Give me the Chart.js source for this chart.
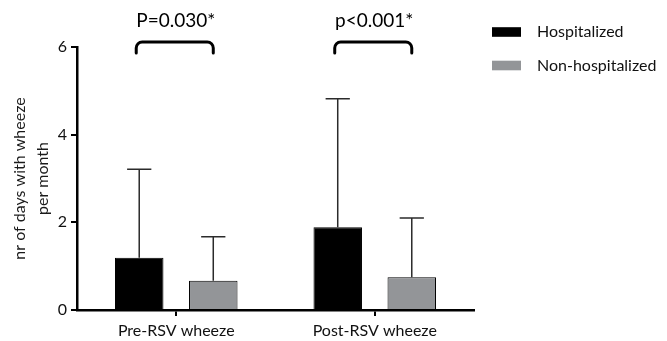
<!DOCTYPE html>
<html>
<head>
<meta charset="utf-8">
<script src="https://cdn.jsdelivr.net/npm/chart.js@4"></script>
<style>
  html, body { margin: 0; padding: 0; background: #fff; }
  #wrap { width: 667px; height: 341px; }
</style>
</head>
<body>
<div id="wrap"><canvas id="myChart" width="667" height="341"></canvas></div>
<script>
const categories = ['Pre-RSV wheeze', 'Post-RSV wheeze']
const seriesNames = ['Hospitalized', 'Non-hospitalized']
const hospitalized = [1.19, 1.89]
const nonHospitalized = [0.67, 0.75]
const sdHospitalized = [2.02, 2.93]
const sdNonHospitalized = [1.00, 1.35]
const pLabels = ['P=0.030*', 'p<0.001*']
const yTicks = [0, 2, 4, 6]

const FONT = 'Lato, "DejaVu Sans", sans-serif'
const ctx = document.getElementById('myChart')

// error bars (upper only), p-value brackets and legend
const extras = {
  id: 'extras',
  afterDatasetsDraw(chart) {
    const c = chart.ctx
    const y = chart.scales.y
    const sds = [sdHospitalized, sdNonHospitalized]

    c.save()
    c.strokeStyle = '#2b2b2b'
    c.lineWidth = 1.5
    chart.data.datasets.forEach((ds, i) => {
      chart.getDatasetMeta(i).data.forEach((bar, j) => {
        const top = y.getPixelForValue(ds.data[j] + sds[i][j])
        const half = bar.width / 4
        c.beginPath()
        c.moveTo(bar.x, bar.y)
        c.lineTo(bar.x, top)
        c.moveTo(bar.x - half, top)
        c.lineTo(bar.x + half, top)
        c.stroke()
      })
    })

    // brackets + p labels
    const m0 = chart.getDatasetMeta(0).data
    const m1 = chart.getDatasetMeta(1).data
    c.strokeStyle = '#000'
    c.lineWidth = 3
    c.lineCap = 'round'
    const yt = 42, yb = 53, r = 6
    m0.forEach((bar, j) => {
      const x1 = bar.x - 3
      const x2 = m1[j].x
      c.beginPath()
      c.moveTo(x1, yb)
      c.arcTo(x1, yt, x1 + r, yt, r)
      c.lineTo(x2 - r, yt)
      c.arcTo(x2, yt, x2, yb, r)
      c.lineTo(x2, yb)
      c.stroke()

      c.fillStyle = '#000'
      c.font = '19px ' + FONT
      c.textAlign = 'center'
      c.textBaseline = 'middle'
      c.fillText(pLabels[j], (x1 + x2) / 2 + 1, 21)
    })

    // legend
    c.font = '16px ' + FONT
    c.textAlign = 'left'
    c.textBaseline = 'middle'
    chart.data.datasets.forEach((ds, i) => {
      const ly = 32 + i * 33.5
      c.fillStyle = ds.backgroundColor
      c.fillRect(492, ly - 4.8, 29, 9.6)
      c.fillStyle = '#111'
      c.fillText(ds.label, 537, ly)
    })
    c.restore()
  }
}

const myChart = new Chart(ctx, {
  type: 'bar',
  data: {
    labels: categories,
    datasets: [
      {
        label: seriesNames[0],
        data: hospitalized,
        backgroundColor: '#000000',
        borderColor: '#000000',
        borderWidth: 1
      },
      {
        label: seriesNames[1],
        data: nonHospitalized,
        backgroundColor: '#939598',
        borderColor: '#000000',
        borderWidth: 1
      }
    ]
  },
  options: {
    responsive: false,
    animation: false,
    devicePixelRatio: 1,
    categoryPercentage: 0.746,
    barPercentage: 0.655,
    layout: { padding: { left: 0, top: 47, right: 193, bottom: 0 } },
    plugins: {
      legend: { display: false },
      tooltip: { enabled: false }
    },
    scales: {
      x: {
        afterFit(scale) { scale.height = 31 },
        border: { color: '#000', width: 2.5 },
        grid: {
          offset: false,
          drawOnChartArea: false,
          drawTicks: true,
          tickLength: 6,
          color: '#000',
          lineWidth: 2
        },
        ticks: {
          color: '#111',
          padding: 5,
          font: { family: FONT, size: 16 }
        }
      },
      y: {
        min: 0,
        max: 6,
        afterFit(scale) { scale.width = 77 },
        afterBuildTicks(scale) { scale.ticks = yTicks.map(v => ({ value: v })) },
        border: { color: '#000', width: 2.5 },
        grid: {
          drawOnChartArea: false,
          drawTicks: true,
          tickLength: 6,
          color: '#000',
          lineWidth: 2
        },
        ticks: {
          color: '#111',
          padding: 4,
          font: { family: FONT, size: 16 }
        },
        title: {
          display: true,
          text: ['nr of days with wheeze', 'per month'],
          color: '#1a1a1a',
          padding: { top: 9 },
          font: { family: FONT, size: 16, lineHeight: 1.4 }
        }
      }
    }
  },
  plugins: [extras]
})
</script>
</body>
</html>
